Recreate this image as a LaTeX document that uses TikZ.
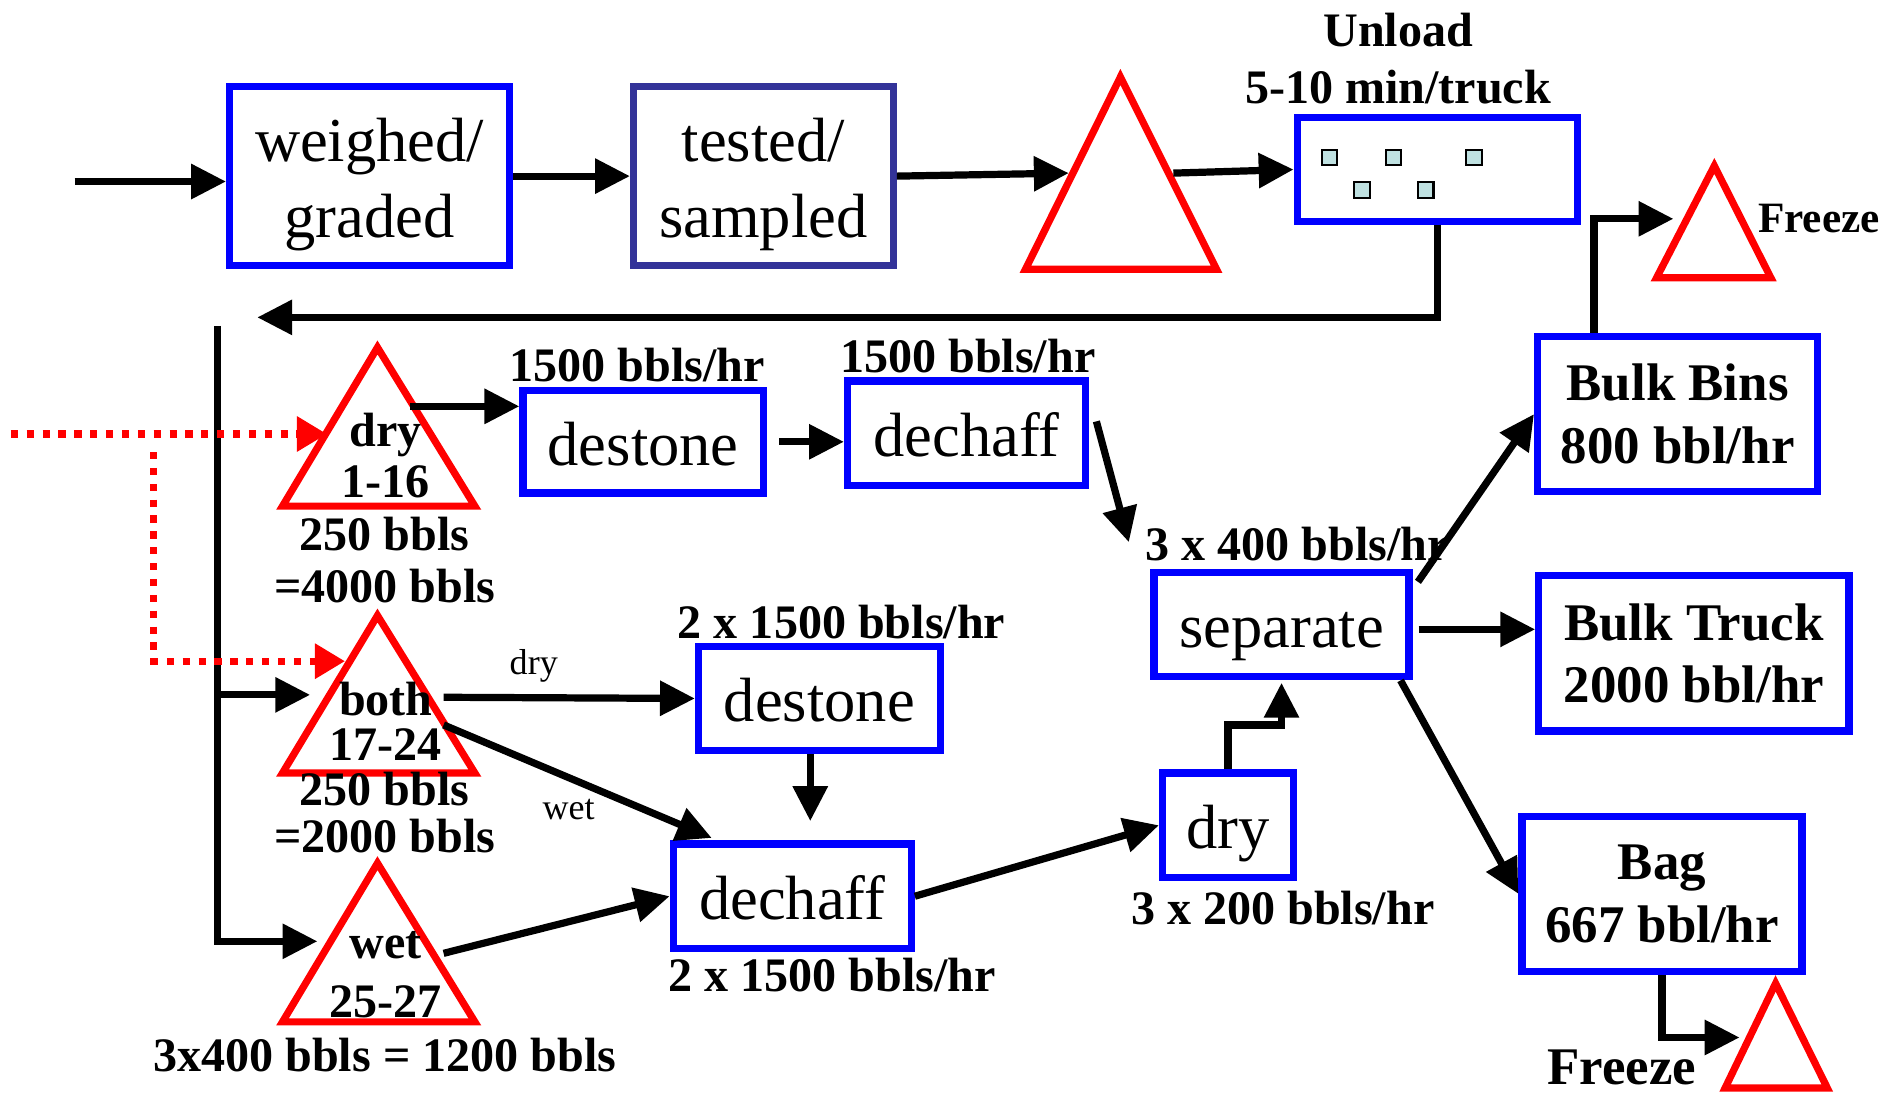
\documentclass[tikz,border=0pt]{standalone}
\usepackage{fontspec}
\setmainfont{Liberation Serif}
\usetikzlibrary{arrows.meta}
\definecolor{graincyan}{RGB}{191,225,225}
\definecolor{darkbox}{RGB}{51,51,153}

\begin{document}
\begin{tikzpicture}%
	[x=0.5pt, y=-0.5pt,
	box/.style={draw=blue, line width=3pt, inner sep=0pt, align=center,
		font=\fontsize{26}{31.5}\selectfont},
	oneline/.style={text height=19.5pt, text depth=0pt},
	outbox/.style={box, font=\bfseries\fontsize{22}{26}\selectfont},
	tank/.style={draw=red, line width=3pt},
	flow/.style={line width=3pt, -{Triangle[length=14.5pt, width=14pt]}},
	dotflow/.style={draw=red, line width=3pt, dash pattern=on 3pt off 3.6pt,
		-{Triangle[length=12.5pt, width=14pt]}},
	rate/.style={font=\bfseries\fontsize{20}{24}\selectfont, inner sep=0pt, anchor=base},
	tag/.style={font=\fontsize{15}{18}\selectfont, inner sep=0pt, anchor=base},
	grain/.style={draw=black, line width=0.85pt, fill=graincyan, inner sep=0pt, minimum size=6.4pt}]
%
\useasboundingbox (0,0) rectangle (1568,910);
%
%% Corners of the tanks:
%%
\coordinate (pit1) at (932,64);
\coordinate (pit2) at (853,224);
\coordinate (pit3) at (1012,224);
\coordinate (frzA1) at (1426,138);
\coordinate (frzA2) at (1378,231);
\coordinate (frzA3) at (1473,231);
\coordinate (dryT1) at (314,289);
\coordinate (dryT2) at (235,421);
\coordinate (dryT3) at (395,421);
\coordinate (bothT1) at (314,512);
\coordinate (bothT2) at (235,643);
\coordinate (bothT3) at (395,643);
\coordinate (wetT1) at (314,718);
\coordinate (wetT2) at (235,850);
\coordinate (wetT3) at (395,850);
\coordinate (frzB1) at (1477,818);
\coordinate (frzB2) at (1435,905);
\coordinate (frzB3) at (1520,905);
%%
%% Ends of the connectors:
%%
\coordinate (in) at (62,151);
\coordinate (pitW) at (889,144);
\coordinate (pitE) at (976,144);
\coordinate (back) at (214,264);
\coordinate (trunk) at (181,271);
\coordinate (fork) at (181,578);
\coordinate (dotin) at (9,361);
\coordinate (dotturn) at (128,376);
\coordinate (dryW) at (272,361);
\coordinate (bothW) at (258,578);
\coordinate (bothWd) at (287,550);
\coordinate (wetW) at (264,783);
\coordinate (dryE) at (341,338);
\coordinate (bothE) at (369,580);
\coordinate (bothSE) at (369,603);
\coordinate (wetE) at (369,793);
\coordinate (sepIn) at (939,451);
\coordinate (dsB) at (674,683);
\coordinate (frzAW) at (1392,182);
\coordinate (frzBW) at (1447,863);
%%
%%
%% Drawing the tanks
%%
\draw[tank] (pit1) -- (pit2) -- (pit3) -- cycle;
\draw[tank] (frzA1) -- (frzA2) -- (frzA3) -- cycle;
\draw[tank] (dryT1) -- (dryT2) -- (dryT3) -- cycle;
\draw[tank] (bothT1) -- (bothT2) -- (bothT3) -- cycle;
\draw[tank] (wetT1) -- (wetT2) -- (wetT3) -- cycle;
\draw[tank] (frzB1) -- (frzB2) -- (frzB3) -- cycle;
%%
%%
%% Drawing the boxes
%%
\node[box, minimum width=116.5pt, minimum height=74.5pt] (weigh) at (307.5,146.5) {\rule{0pt}{25pt}weighed/\\graded};
\node[box, draw=darkbox, minimum width=108pt, minimum height=74.5pt] (test) at (635,146.5) {\rule{0pt}{25pt}tested/\\sampled};
\node[box, minimum width=116.5pt, minimum height=43pt] (unload) at (1195.5,141) {};
\node[box, oneline, minimum width=100pt, minimum height=42.5pt] (destoneA) at (535,367.5) {destone};
\node[box, oneline, minimum width=99pt, minimum height=43.5pt] (dechaffA) at (804,360.5) {dechaff};
\node[box, oneline, minimum width=100.5pt, minimum height=43pt] (destoneB) at (681.5,581) {destone};
\node[box, oneline, minimum width=99pt, minimum height=43.5pt] (dechaffB) at (659,745.5) {dechaff};
\node[box, oneline, minimum width=106pt, minimum height=43.5pt] (separate) at (1066,519.5) {separate};
\node[box, oneline, minimum width=54.5pt, minimum height=43.5pt] (drybox) at (1021.5,686.5) {dry};
\node[outbox, minimum width=116.5pt, minimum height=64.5pt] (bins) at (1395.5,344.5) {Bulk Bins\\800 bbl/hr};
\node[outbox, minimum width=129pt, minimum height=64.5pt] (btruck) at (1409,543.5) {Bulk Truck\\2000 bbl/hr};
\node[outbox, minimum width=116.5pt, minimum height=64.5pt] (bag) at (1382.5,743.5) {Bag\\667 bbl/hr};
%%
%% Trucks waiting at the unload point
%%
\node[grain] (g1) at (1106,131) {};
\node[grain] (g2) at (1159,131) {};
\node[grain] (g3) at (1226,131) {};
\node[grain] (g4) at (1133,158) {};
\node[grain] (g5) at (1186,158) {};
%%
%%
%% Drawing the labels
%%
\node[rate] (unloadtop) at (1163,39) {Unload};
\node[rate] (unloadrate) at (1163,86) {5-10 min/truck};
\node[rate] (rateA) at (530,317) {1500 bbls/hr};
\node[rate] (rateB) at (805,310) {1500 bbls/hr};
\node[rate] (dryname) at (321,371) {dry};
\node[rate] (dryrange) at (321,414) {1-16};
\node[rate] (drycap) at (320,458) {250 bbls};
\node[rate] (drytot) at (320,501) {=4000 bbls};
\node[rate] (rateC) at (700,531) {2 x 1500 bbls/hr};
\node[tag] (drytag) at (444,561) {dry};
\node[rate] (bothname) at (321,595) {both};
\node[rate] (bothrange) at (321,633) {17-24};
\node[rate] (bothcap) at (320,670) {250 bbls};
\node[rate] (bothtot) at (320,709) {=2000 bbls};
\node[tag] (wettag) at (473,682) {wet};
\node[rate] (wetname) at (321,797) {wet};
\node[rate] (wetrange) at (321,846) {25-27};
\node[rate] (wettot) at (320,891) {3x400 bbls = 1200 bbls};
\node[rate] (rateD) at (692,825) {2 x 1500 bbls/hr};
\node[rate] (rateE) at (1079,466) {3 x 400 bbls/hr};
\node[rate] (rateF) at (1067,769) {3 x 200 bbls/hr};
\node[rate, font=\bfseries\fontsize{18}{20}\selectfont] (frzAtxt) at (1513,193) {Freeze};
\node[rate, font=\bfseries\fontsize{22}{26}\selectfont] (frzBtxt) at (1349,902) {Freeze};
%%
%%
%% Drawing the connectors
%%
\draw[flow] (in) -- (in -| weigh.west);
\draw[flow] (weigh.east) -- (test.west);
\draw[flow] (test.east) -- (pitW);
\draw[flow] (pitE) -- (unload.west);
\draw[flow] (unload.south) |- (back);
\draw[flow] ([xshift=-34.75pt]bins.north) |- (frzAW);
\draw[flow] (trunk) |- (wetW);
\draw[flow] (fork) -- (bothW);
\draw[dotflow] (dotin) -- (dryW);
\draw[dotflow] (dotturn) |- (bothWd);
\draw[flow] (dryE) -- (dryE -| destoneA.west);
\draw[flow] ([xshift=5pt]destoneA.east) -- (dechaffA.west |- destoneA.east);
\draw[flow] ([shift={(3pt,5pt)}]dechaffA.east) -- (sepIn);
\draw[flow] ([shift={(2.25pt,-5.5pt)}]separate.north east) -- (bins.west);
\draw[flow] ([shift={(2.5pt,-2pt)}]separate.east) -- ([yshift=-2pt]separate.east -| btruck.west);
\draw[flow] ([xshift=-5pt]separate.south east) -- (bag.west);
\draw[flow] (bag.south) |- (frzBW);
\draw[flow] (bothE) -- (destoneB.west);
\draw[flow] (bothSE) -- ([shift={(17.5pt,1pt)}]dechaffB.north west);
\draw[flow] ([xshift=-3.75pt]destoneB.south) -- (dsB);
\draw[flow] (wetE) -- (dechaffB.west);
\draw[flow] (dechaffB.east) -- (drybox.west);
\draw[flow] (drybox.north) -- ++(0,-37) -| ([yshift=-1pt]separate.south);
%%
%%
\end{tikzpicture}
\end{document}
